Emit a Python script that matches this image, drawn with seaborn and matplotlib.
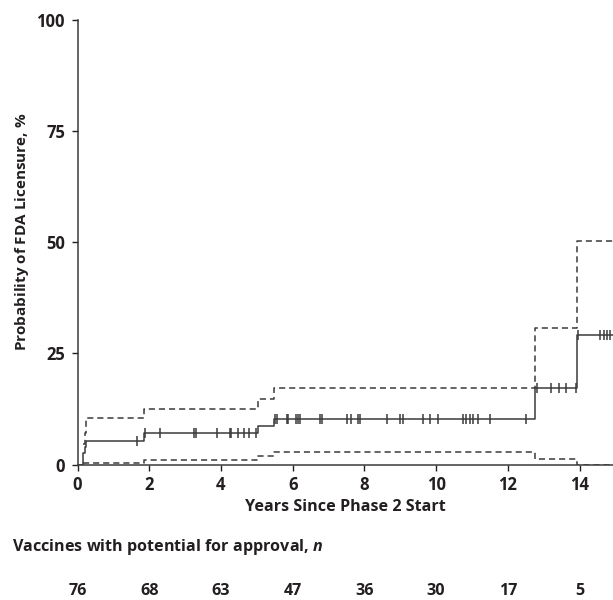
import numpy as np
import pandas as pd
import matplotlib
matplotlib.use("Agg")
import matplotlib.pyplot as plt
import matplotlib.transforms as mtransforms
import seaborn as sns

# ---------------- data ----------------
step_times = [0.0, 0.14, 0.20, 0.25, 1.85, 5.02, 5.48, 12.77, 13.94, 14.95]
km_pct     = [0.0, 2.6, 3.9, 5.3, 7.0, 8.6, 10.3, 17.2, 29.2, 29.2]

ci_times   = [0.14, 0.20, 0.25, 1.85, 5.02, 5.48, 12.77, 13.94, 14.95]
upper_pct  = [4.6, 7.0, 10.4, 12.4, 14.8, 17.1, 30.6, 50.3, 50.3]
lower_pct  = [0.3, 0.3, 0.3, 1.1, 1.8, 2.8, 1.3, 0.0, 0.0]

censor_times = [1.65, 1.87, 2.30, 3.24, 3.30, 3.88, 4.24, 4.28, 4.47, 4.63, 4.77, 4.98,
                5.51, 5.56, 5.83, 5.87, 6.08, 6.14, 6.21, 6.76, 6.81, 7.51, 7.63, 7.81,
                7.88, 8.62, 9.00, 9.07, 9.63, 9.83, 10.05, 10.74, 10.83, 10.94, 11.03,
                11.16, 11.50, 12.51, 12.81, 13.21, 13.42, 13.63, 13.91, 13.97, 14.56,
                14.67, 14.77, 14.85]

xticks = [0, 2, 4, 6, 8, 10, 12, 14]
yticks = [0, 25, 50, 75, 100]
at_risk = [76, 68, 63, 47, 36, 30, 17, 5]

xlabel = "Years Since Phase 2 Start"
ylabel = r"Probability of FDA Licensure, $\mathit{\%}$"
table_title = r"Vaccines with potential for approval, $\mathit{n}$"

# ---------------- style ----------------
sns.set_style("ticks")
plt.rcParams["font.family"] = ["Open Sans", "DejaVu Sans"]
plt.rcParams["font.weight"] = "bold"
plt.rcParams["mathtext.fontset"] = "custom"
plt.rcParams["mathtext.it"] = "Open Sans:italic:bold"
plt.rcParams["mathtext.rm"] = "Open Sans:bold"
plt.rcParams["mathtext.bf"] = "Open Sans:bold"

text_color = "#231f20"
line_color = "#3a3a3a"

df = pd.concat([
    pd.DataFrame({"t": step_times, "p": km_pct, "series": "KM"}),
    pd.DataFrame({"t": ci_times, "p": upper_pct, "series": "Upper"}),
    pd.DataFrame({"t": ci_times, "p": lower_pct, "series": "Lower"}),
], ignore_index=True)

idx = np.searchsorted(np.array(step_times), np.array(censor_times), side="right") - 1
cens_df = pd.DataFrame({"t": censor_times, "p": np.array(km_pct)[idx]})

fig = plt.figure(figsize=(6.13, 6.0), dpi=100)
ax = fig.add_axes([77.5 / 613, (600 - 464.5) / 600, 1 - 77.5 / 613, (464.5 - 20) / 600])

sns.lineplot(data=df, x="t", y="p", hue="series", style="series",
             palette={"KM": line_color, "Upper": line_color, "Lower": line_color},
             dashes={"KM": "", "Upper": (4, 2.6), "Lower": (4, 2.6)},
             drawstyle="steps-post", estimator=None, sort=False,
             linewidth=1.1, legend=False, ax=ax)

sns.scatterplot(data=cens_df, x="t", y="p", marker="|", s=55, color=line_color,
                linewidth=1.1, legend=False, ax=ax, zorder=3)

ax.set_xlim(0, (613 - 77.5) / 35.86)
ax.set_ylim(0, 100)
ax.set_xticks(xticks)
ax.set_yticks(yticks)
ax.set_xticklabels([str(v) for v in xticks])
ax.set_yticklabels([str(v) for v in yticks])
ax.tick_params(axis="both", length=4, width=1, pad=5, labelsize=12,
               colors=text_color, direction="out")
ax.tick_params(axis="x", pad=4)
for s in ["top", "right"]:
    ax.spines[s].set_visible(False)
for s in ["left", "bottom"]:
    ax.spines[s].set_color(line_color)
    ax.spines[s].set_linewidth(1.1)

ax.set_xlabel(xlabel, fontsize=11.6, fontweight="bold", color=text_color)
ax.xaxis.label.set_va("center")
ax.xaxis.set_label_coords(0.5, -(507 - 464.5) / 444.5)

ax.set_ylabel(ylabel, fontsize=11, fontweight="bold", color=text_color)
ax.yaxis.label.set_va("center")
ax.yaxis.set_label_coords((21.7 - 77.5) / 535.5, (464.5 - 231.5) / 444.5)

fig.text(11.5 / 613, 1 - 547 / 600, table_title, fontsize=11.6, fontweight="bold",
         color=text_color, ha="left", va="center")

trans = mtransforms.blended_transform_factory(ax.transData, fig.transFigure)
for x, n in zip(xticks, at_risk):
    ax.text(x, 1 - 591 / 600, str(n), transform=trans, fontsize=11.6,
            fontweight="bold", color=text_color, ha="center", va="center",
            clip_on=False)

fig.savefig("out.png", dpi=100)
